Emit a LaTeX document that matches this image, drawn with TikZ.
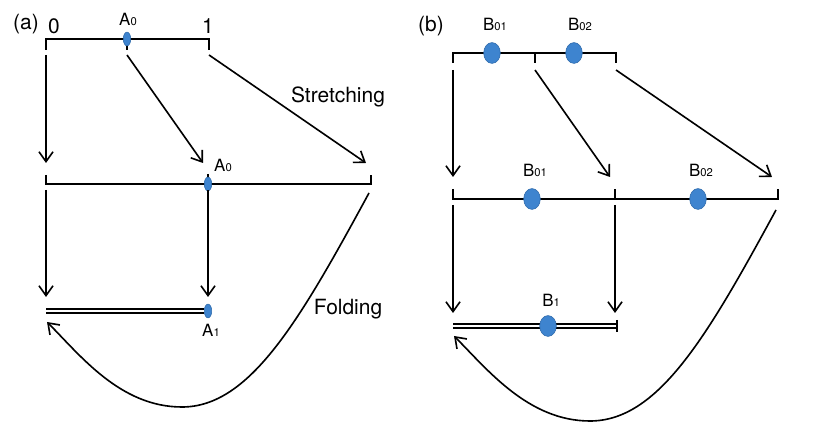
\documentclass[tikz,border=0pt]{standalone}
\usepackage{fontspec}
\setmainfont{TeX Gyre Heros}
\usetikzlibrary{arrows.meta, shapes.geometric}
\definecolor{dotblue}{RGB}{62,132,207}
\definecolor{dotedge}{RGB}{45,105,170}
\newcommand{\pt}[2]{#1{\fontsize{8}{9}\selectfont #2}}

\begin{document}
\begin{tikzpicture}[
    x=0.025cm, y=-0.025cm,
    >={Straight Barb[length=7pt,width=10pt]},
    seg/.style={line width=1.15pt},
    arr/.style={->, line width=1.15pt},
    fold/.style={double, line width=0.95pt, double distance=1.8pt},
    big/.style={font=\fontsize{14.9}{17}\selectfont, inner sep=0pt},
    lbl/.style={font=\fontsize{12}{14}\selectfont, inner sep=0pt},
    dota/.style={ellipse, draw=dotedge, fill=dotblue, line width=0.4pt,
                 minimum width=5.3pt, minimum height=9.8pt, inner sep=0pt},
    dotb/.style={dota, minimum width=11.8pt, minimum height=14.8pt},
]
\useasboundingbox (0,0) rectangle (836,444);
% ------------------------------------------------ (a) unit interval
\node[big] (tagA) at (26,24) {(a)};
\node[big] (zero) at (54,26) {0};
\node[big] (one) at (208,26) {1};
\coordinate (a0l) at (46,39);
\coordinate (a0r) at (209,39);
\draw[seg] (a0l) ++(0,11) -- (a0l) -- (a0r) -- ++(0,11);
\draw[seg] (127,39) -- (127,50);
\node[dota] (pA0) at (127,39) {};
\node[lbl] (lA0) at (128,19) {\pt{A}{0}};
% stretching
\foreach \n/\xs/\xe in {1/46/46, 2/127/203, 3/209/366} {
  \coordinate (sa\n) at (\xs,55);
  \coordinate (ea\n) at (\xe,163);
  \draw[arr] (sa\n) -- (ea\n);
}
\node[big] (stretchA) at (338,97) {Stretching};
\coordinate (a1l) at (46,184);
\coordinate (a1r) at (371,184);
\draw[seg] (a1l) ++(0,-9) -- (a1l) -- (a1r) -- ++(0,-9);
\draw[seg] (208,174) -- (208,190);
\node[dota] (pA1) at (208,184) {};
\node[lbl] (lA1) at (223,165) {\pt{A}{0}};
\foreach \n/\x in {1/46, 2/208} {
  \coordinate (sb\n) at (\x,190);
  \coordinate (eb\n) at (\x,297);
  \draw[arr] (sb\n) -- (eb\n);
}
% folding
\coordinate (a2l) at (46,311);
\node[dota] (pA2) at (208,311) {};
\draw[fold] (a2l) -- (pA2.west);
\node[lbl] (lA2) at (211,330) {\pt{A}{1}};
\coordinate (fa) at (369,193);
\coordinate (fa-low) at (182,407);
\coordinate (fe) at (47,322);
\draw[arr] (fa) .. controls (300,320) and (250,407) .. (fa-low)
               .. controls (120,407) and (80,355) .. (fe);
\node[big] (foldA) at (348,309) {Folding};
% ------------------------------------------------ (b) two halves
\node[big] (tagB) at (431,26) {(b)};
\coordinate (b0l) at (453,53);
\coordinate (b0m) at (535,53);
\coordinate (b0r) at (616,53);
\draw[seg] (b0l) ++(0,10) -- (b0l) -- (b0r) -- ++(0,10);
\draw[seg] (b0m) -- ++(0,10);
\node[dotb] (pB01) at (492,53) {};
\node[dotb] (pB02) at (574,53) {};
\node[lbl] (lB01) at (495,24) {\pt{B}{01}};
\node[lbl] (lB02) at (580,24) {\pt{B}{02}};
\foreach \n/\xs/\xe in {1/453/453, 2/535/610, 3/616/772} {
  \coordinate (sc\n) at (\xs,70);
  \coordinate (ec\n) at (\xe,177);
  \draw[arr] (sc\n) -- (ec\n);
}
\coordinate (b1l) at (453,199);
\coordinate (b1m) at (615,199);
\coordinate (b1r) at (778,199);
\draw[seg] (b1l) ++(0,-10) -- (b1l) -- (b1r) -- ++(0,-10);
\draw[seg] (b1m) -- ++(0,-10);
\node[dotb] (pB11) at (532,199) {};
\node[dotb] (pB12) at (698,199) {};
\node[lbl] (lB11) at (535,170) {\pt{B}{01}};
\node[lbl] (lB12) at (701,170) {\pt{B}{02}};
\foreach \n/\x in {1/453, 2/615} {
  \coordinate (sd\n) at (\x,205);
  \coordinate (ed\n) at (\x,313);
  \draw[arr] (sd\n) -- (ed\n);
}
\coordinate (b2l) at (453,326);
\coordinate (b2r) at (617,326);
\draw[fold] (b2l) -- (b2r);
\draw[seg] (b2r) ++(0,-6) -- ++(0,12);
\node[dotb] (pB2) at (548,326) {};
\node[lbl] (lB2) at (551,300) {\pt{B}{1}};
\coordinate (fb) at (776,210);
\coordinate (fb-low) at (590,421);
\coordinate (fbe) at (454,336);
\draw[arr] (fb) .. controls (707,337) and (658,421) .. (fb-low)
               .. controls (528,421) and (487,369) .. (fbe);
\end{tikzpicture}
\end{document}
